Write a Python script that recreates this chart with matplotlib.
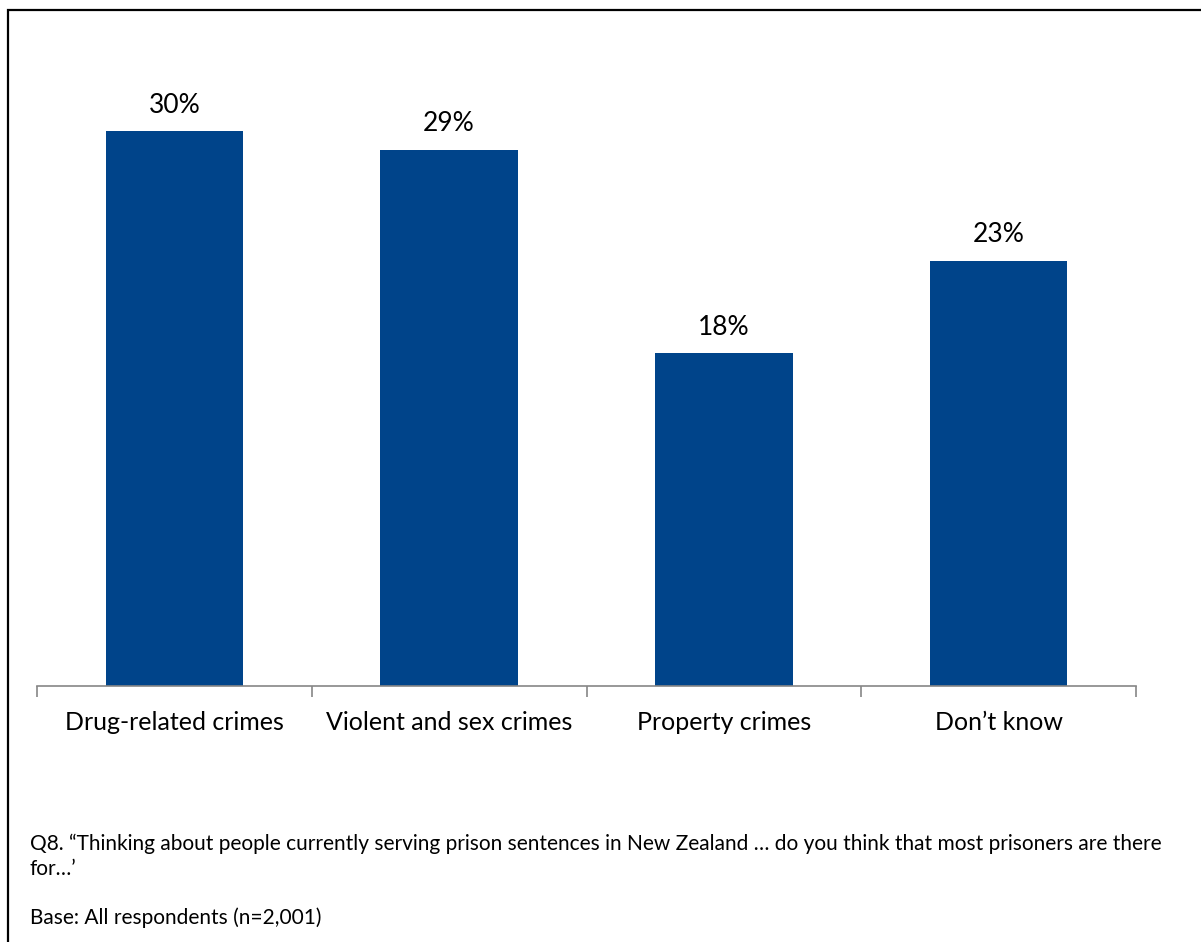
import matplotlib
matplotlib.use("Agg")
import matplotlib.pyplot as plt
from matplotlib.patches import Rectangle

categories = ["Drug-related crimes", "Violent and sex crimes", "Property crimes", "Don\u2019t know"]
values = [30, 29, 18, 23]
value_labels = ["30%", "29%", "18%", "23%"]
note_question = ("Q8. \u201cThinking about people currently serving prison sentences in New Zealand \u2026 "
                 "do you think that most prisoners are there\nfor\u2026\u2019")
note_base = "Base: All respondents (n=2,001)"

plt.rcParams['font.family'] = ['Lato', 'DejaVu Sans']

W, H = 1201, 942
fig = plt.figure(figsize=(W / 100, H / 100), dpi=100)

# rand om de figuur
fig.patches.append(Rectangle((8 / W, -0.05), 1.1, 1 - 10 / H + 0.05, transform=fig.transFigure,
                             fill=False, edgecolor='black', linewidth=1.6))

ax = fig.add_axes([37 / W, 1 - 686 / H, (1136 - 37) / W, (686 - 75) / H])
x = range(len(categories))
ax.bar(x, values, width=0.5, color='#00448A')
ax.set_xlim(-0.5, len(categories) - 0.5)
ax.set_ylim(0, (686 - 75) / 18.5)

# waardelabels boven de balken
for i, v in enumerate(values):
    ax.annotate(value_labels[i], (i, v), xytext=(0, 18.5), textcoords='offset points',
                ha='center', va='center', fontsize=19)

ax.set_yticks([])
for s in ['top', 'right', 'left']:
    ax.spines[s].set_visible(False)
ax.spines['bottom'].set_color('#868686')
ax.spines['bottom'].set_linewidth(1.2)

ax.set_xticks([i - 0.5 for i in range(len(categories) + 1)])
ax.set_xticklabels([])
ax.tick_params(axis='x', length=8, color='#868686', width=1.2, direction='out')
for i, c in enumerate(categories):
    ax.annotate(c, (i, 0), xycoords=('data', 'axes fraction'), xytext=(0, -26),
                textcoords='offset points', ha='center', va='center', fontsize=18)

fig.text(30 / W, 1 - 856 / H, note_question, ha='left', va='center', fontsize=15, linespacing=1.3)
fig.text(30 / W, 1 - 918 / H, note_base, ha='left', va='center', fontsize=15)

fig.savefig("out.png", dpi=100)
